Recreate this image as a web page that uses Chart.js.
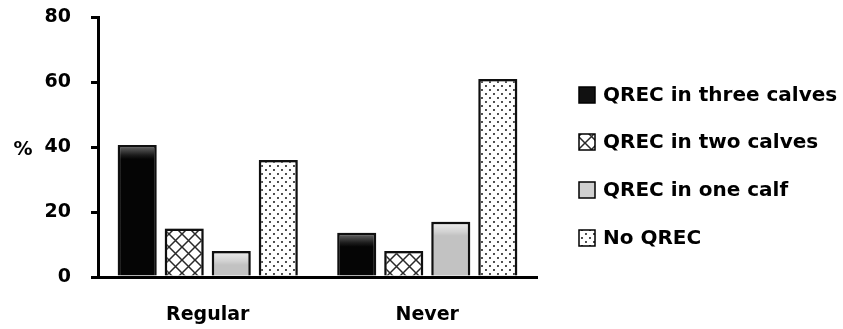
<!DOCTYPE html>
<html>
<head>
<meta charset="utf-8">
<script src="https://cdn.jsdelivr.net/npm/chart.js@4.4.0/dist/chart.umd.min.js"></script>
<style>
  html, body { margin:0; padding:0; background:#fff; }
  #wrap { width:843px; height:329px; position:relative; }
</style>
</head>
<body>
<div id="wrap"><canvas id="c"></canvas></div>
<script>
// data
const categories = ['Regular', 'Never'];
const threeCalves = [40.6, 13.6];
const twoCalves   = [14.9, 8.0];
const oneCalf     = [8.0, 17.0];
const noQrec      = [36.0, 60.9];
const yTicks      = [0, 20, 40, 60, 80];
const seriesNames = ['QREC in three calves', 'QREC in two calves', 'QREC in one calf', 'No QREC'];

const FONT = 'DejaVu Sans';

// ------- fill patterns --------
function makeTile(w, h, paint){
  const c = document.createElement('canvas');
  c.width = w; c.height = h;
  const g = c.getContext('2d');
  g.fillStyle = '#fff'; g.fillRect(0, 0, w, h);
  paint(g);
  return c;
}
const crossTile = makeTile(13, 13, g => {
  g.strokeStyle = '#2a2a2a'; g.lineWidth = 1.5;
  g.beginPath();
  g.moveTo(-1, -1); g.lineTo(14, 14);
  g.moveTo(14, -1); g.lineTo(-1, 14);
  g.stroke();
});
const dotTile = makeTile(8, 8, g => {
  g.fillStyle = '#222';
  [[2, 2], [6, 6]].forEach(([x, y]) => { g.beginPath(); g.arc(x, y, 1.05, 0, Math.PI*2); g.fill(); });
});
const ctx0 = document.getElementById('c').getContext('2d');
const crossPat = ctx0.createPattern(crossTile, 'repeat');
const dotPat = ctx0.createPattern(dotTile, 'repeat');

// bevel-ish vertical gradient for each bar, from its own top down
function bevel(top, edge, body){
  return (c) => {
    if (c.type !== 'data') return body;
    const y = c.chart.scales.y;
    if (!y) return body;
    const t = y.getPixelForValue(c.raw), b = y.getPixelForValue(0);
    if (!isFinite(t) || !isFinite(b) || b - t < 2) return body;
    const h = b - t;
    const g = c.chart.ctx.createLinearGradient(0, t, 0, b);
    g.addColorStop(0, top);
    g.addColorStop(Math.min(0.9, 10/h), edge);
    g.addColorStop(Math.min(0.95, 14/h), body);
    g.addColorStop(1, body);
    return g;
  };
}

const fills = [
  bevel('#707070', '#1c1c1c', '#050505'),
  crossPat,
  bevel('#f0f0f0', '#d2d2d2', '#c2c2c2'),
  dotPat
];
const legendFills = ['#111', crossPat, '#cfcfcf', dotPat];

// ------- plugins --------
const shadow = {
  id:'shadow',
  beforeDatasetsDraw(chart){ const c = chart.ctx; c.save(); c.shadowColor = 'rgba(0,0,0,0.35)'; c.shadowBlur = 5; },
  afterDatasetsDraw(chart){ chart.ctx.restore(); }
};

const extras = {
  id:'extras',
  afterDraw(chart){
    const c = chart.ctx;
    c.save();
    c.fillStyle = '#000';
    c.font = `bold 19px "${FONT}"`;
    c.textAlign = 'center'; c.textBaseline = 'middle';
    c.fillText('%', 23, 150);

    // legend
    const rows = [95, 142, 190, 238];
    c.font = `bold 20px "${FONT}"`;
    c.textAlign = 'left';
    seriesNames.forEach((name, i) => {
      const y = rows[i];
      c.fillStyle = legendFills[i];
      c.fillRect(579, y - 8, 16, 16);
      c.strokeStyle = '#000'; c.lineWidth = 1.5;
      c.strokeRect(579, y - 8, 16, 16);
      c.fillStyle = '#000';
      c.fillText(name, 603, y + 1);
    });
    c.restore();
  }
};

// ------- chart --------
const series = [threeCalves, twoCalves, oneCalf, noQrec];
new Chart(document.getElementById('c'), {
  type:'bar',
  data:{
    labels: categories,
    datasets: series.map((d, i) => ({
      label: seriesNames[i],
      data: d,
      backgroundColor: fills[i],
      borderColor:'#111',
      borderWidth: 2.5,
      categoryPercentage: 0.857,
      barPercentage: 0.83
    }))
  },
  options:{
    responsive:true, maintainAspectRatio:false, animation:false,
    layout:{ padding:{ top:17, right:306, bottom:0, left:0 } },
    plugins:{ legend:{ display:false }, tooltip:{ enabled:false } },
    scales:{
      x:{
        grid:{ display:false, drawTicks:false },
        border:{ display:true, color:'#000', width:3, z:1 },
        ticks:{ color:'#000', padding:27, font:{ family:FONT, size:19, weight:'bold' } },
        afterFit: s => { s.height = 52; s.paddingLeft = 0; s.paddingRight = 0; }
      },
      y:{
        min:0, max:80,
        afterBuildTicks: s => { s.ticks = yTicks.map(v => ({ value:v })); },
        grid:{ drawOnChartArea:false, drawTicks:true, tickLength:7, color:'#000', lineWidth:3 },
        border:{ display:true, color:'#000', width:3, z:1 },
        ticks:{ color:'#000', padding:20, font:{ family:FONT, size:19, weight:'bold' } },
        afterFit: s => { s.width = 98; s.paddingTop = 0; s.paddingBottom = 0; }
      }
    }
  },
  plugins:[shadow, extras]
});
</script>
</body>
</html>
